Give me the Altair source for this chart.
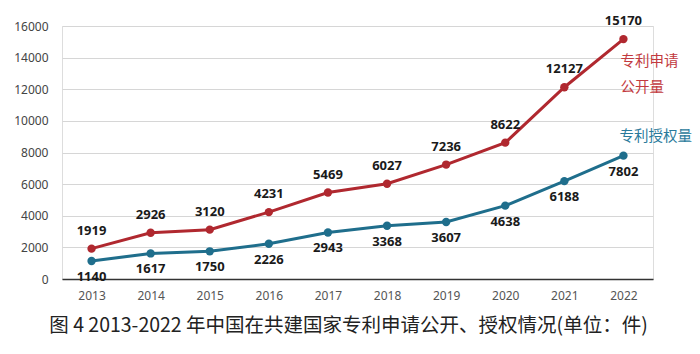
import altair as alt
import pandas as pd

years = ["2013", "2014", "2015", "2016", "2017", "2018", "2019", "2020", "2021", "2022"]
publications = [1919, 2926, 3120, 4231, 5469, 6027, 7236, 8622, 12127, 15170]
grants = [1140, 1617, 1750, 2226, 2943, 3368, 3607, 4638, 6188, 7802]
series_names = ["专利申请公开量", "专利授权量"]
series_colors = ["#b0282f", "#1f6e8c"]
label_colors = ["#c23a40", "#2a7a9b"]
y_ticks = [0, 2000, 4000, 6000, 8000, 10000, 12000, 14000, 16000]
title_text = "图 4 2013-2022 年中国在共建国家专利申请公开、授权情况(单位：件)"

df = pd.DataFrame({
    "year": years * 2,
    "value": publications + grants,
    "series": [series_names[0]] * len(years) + [series_names[1]] * len(years),
})
pub_df = df[df.series == series_names[0]]
grant_df = df[df.series == series_names[1]]

x_enc = alt.X("year:O", scale=alt.Scale(type="point", padding=0.5),
              axis=alt.Axis(title=None, labelAngle=0, ticks=False, domain=True,
                            domainColor="#333333", domainWidth=1.5,
                            labelFont="Noto Sans", labelFontSize=12, labelColor="#555555",
                            labelPadding=11, grid=False))
y_enc = alt.Y("value:Q", scale=alt.Scale(domain=[0, 16000], nice=False),
              axis=alt.Axis(title=None, values=y_ticks, format="d", labelOverlap=False,
                            ticks=False, domain=False,
                            grid=True, gridColor="#d6d6d6", gridWidth=1,
                            labelFont="Noto Sans", labelFontSize=12, labelColor="#444444",
                            labelPadding=14))
color_enc = alt.Color("series:N", scale=alt.Scale(domain=series_names, range=series_colors), legend=None)

base = alt.Chart(df).encode(x=x_enc, y=y_enc, color=color_enc)
lines = base.mark_line(strokeWidth=3)
points = base.mark_point(filled=True, size=70, opacity=1)

pub_labels = alt.Chart(pub_df).mark_text(dy=-18, font="Noto Sans", fontSize=13, fontWeight="bold",
                                         color="#1a1a1a").encode(x=x_enc, y=y_enc, text="value:Q")
grant_labels = alt.Chart(grant_df).mark_text(dy=16, font="Noto Sans", fontSize=13, fontWeight="bold",
                                             color="#1a1a1a").encode(x=x_enc, y=y_enc, text="value:Q")

ann_pub = alt.Chart(pd.DataFrame({"year": [years[-1]], "value": [publications[-1]],
                                  "t": [["专利申请", "公开量"]]})).mark_text(
    align="left", baseline="middle", dx=-3, dy=23, lineHeight=26,
    font="Noto Sans CJK SC", fontSize=14.5, color=label_colors[0]
).encode(x=x_enc, y=y_enc, text="t")
ann_grant = alt.Chart(pd.DataFrame({"year": [years[-1]], "value": [grants[-1]],
                                    "t": ["专利授权量"]})).mark_text(
    align="left", baseline="middle", dx=-4, dy=-19,
    font="Noto Sans CJK SC", fontSize=14.5, color=label_colors[1]
).encode(x=x_enc, y=y_enc, text="t:N")

chart = alt.layer(lines, points, pub_labels, grant_labels, ann_pub, ann_grant).properties(
    width=591, height=253,
    autosize=alt.AutoSizeParams(type="none"),
    padding={"left": 62, "top": 26, "right": 47, "bottom": 75},
    title=alt.TitleParams(title_text, orient="bottom", anchor="middle", dx=-9, offset=16,
                          font="Noto Sans CJK SC", fontSize=19.5, fontWeight="normal", color="#222222"),
).configure_view(stroke=None).configure_axisY(labelOverlap=False).configure(background="white")

chart.save("out.html", embed_options={"renderer": "svg", "actions": False})
